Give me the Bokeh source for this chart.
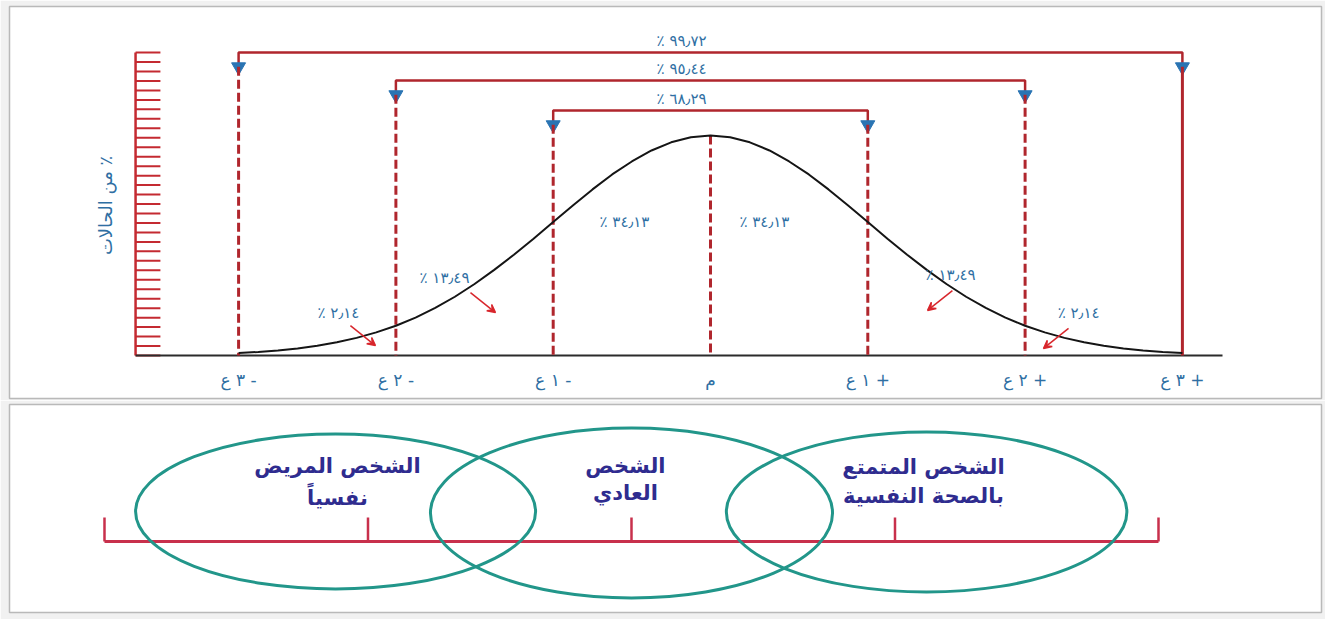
import numpy as np
from bokeh.plotting import figure
from bokeh.layouts import column
from bokeh.models import Range1d, Arrow, VeeHead
from bokeh.core.properties import value
from bokeh.embed import file_html
from bokeh.resources import INLINE

# ---- data -------------------------------------------------------------
# normal curve: height relative to the peak, at eighth-sigma steps
curve_z = [-3.0, -2.875, -2.75, -2.625, -2.5, -2.375, -2.25, -2.125, -2.0, -1.875, -1.75, -1.625,
           -1.5, -1.375, -1.25, -1.125, -1.0, -0.875, -0.75, -0.625, -0.5, -0.375, -0.25, -0.125,
           0.0, 0.125, 0.25, 0.375, 0.5, 0.625, 0.75, 0.875, 1.0, 1.125, 1.25, 1.375,
           1.5, 1.625, 1.75, 1.875, 2.0, 2.125, 2.25, 2.375, 2.5, 2.625, 2.75, 2.875, 3.0]
curve_h = [0.011, 0.016, 0.023, 0.032, 0.044, 0.060, 0.080, 0.105, 0.135, 0.172, 0.216, 0.267,
           0.325, 0.389, 0.458, 0.531, 0.607, 0.682, 0.755, 0.823, 0.882, 0.932, 0.969, 0.992,
           1.0, 0.992, 0.969, 0.932, 0.882, 0.823, 0.755, 0.682, 0.607, 0.531, 0.458, 0.389,
           0.325, 0.267, 0.216, 0.172, 0.135, 0.105, 0.080, 0.060, 0.044, 0.032, 0.023, 0.016, 0.011]

sigma_ticks = [-3, -2, -1, 0, 1, 2, 3]
sigma_labels = ["٣ ع -", "٢ ع -", "١ ع -", "م", "١ ع +", "٢ ع +", "٣ ع +"]

band_pct = [2.14, 13.49, 34.13, 34.13, 13.49, 2.14]
bracket_k = [1, 2, 3]
bracket_pct = [68.29, 95.44, 99.72]

y_title = "\u200f٪ من الحالات"

scale_ticks = [0, 1, 2, 3, 4]
group_line1 = ["الشخص المريض", "الشخص", "الشخص المتمتع"]
group_line2 = ["نفسياً", "العادي", "بالصحة النفسية"]

# ---- styling / layout ---------------------------------------------------
RED = "#b0262d"
BLUE_TXT = "#2f6fa3"
ARROW_BLUE = "#2a74b3"
SMALL_ARROW = "#d8262c"
INDIGO = "#2f2c8f"
TEAL = "#22968a"
SCALE_RED = "#c8304c"
FONT = value("DejaVu Sans")

AR_DIGITS = str.maketrans("0123456789.", "٠١٢٣٤٥٦٧٨٩٫")


def pct_text(v):
    return "٪ " + f"{v:.2f}".translate(AR_DIGITS)


# ---- upper panel: the normal curve ------------------------------------
top = figure(width=1325, height=400, output_backend="svg", toolbar_location=None,
             x_axis_location=None, y_axis_location=None,
             x_range=Range1d(-4.4564, 3.8843), y_range=Range1d(-0.1955, 1.5864),
             min_border_left=9, min_border_right=4, min_border_top=6, min_border_bottom=2)
top.grid.visible = False
top.background_fill_color = "white"
top.border_fill_color = "#f1f1f1"
top.outline_line_color = "#b9b9b9"
top.outline_line_width = 1.5

bracket_y = {1: 1.1136, 2: 1.25, 3: 1.377}
arrow_gap = 0.065
label_gap = 0.052

# hatched vertical scale on the left
hatch_x0, hatch_x1 = -3.655, -3.497
hatch_top = bracket_y[3]
hy = np.linspace(0, hatch_top, 33)
top.segment(x0=[hatch_x0] * len(hy), y0=hy, x1=[hatch_x1] * len(hy), y1=hy,
            line_color="#c42a31", line_width=2)
top.segment(x0=[hatch_x0], y0=[0], x1=[hatch_x0], y1=[hatch_top], line_color="#c42a31", line_width=2.5)

# baseline
top.segment(x0=[hatch_x0], y0=[0], x1=[3.255], y1=[0], line_color="#2b2b2b", line_width=2)

# brackets over +-k sigma
for k, pct in zip(bracket_k, bracket_pct):
    by = bracket_y[k]
    ay = by - arrow_gap
    top.line(x=[-k, -k, k, k], y=[ay, by, by, ay], line_color=RED, line_width=2.5)
    top.scatter(x=[-k, k], y=[ay, ay], marker="inverted_triangle", size=14,
                fill_color=ARROW_BLUE, line_color=ARROW_BLUE)
    top.text(x=[-0.184], y=[by + label_gap], text=[pct_text(pct)], text_font=FONT,
             text_font_size="15px", text_color=BLUE_TXT,
             text_align="center", text_baseline="middle")
    # dashed drop lines below the arrows (the +3 side is solid)
    top.segment(x0=[-k], y0=[ay], x1=[-k], y1=[0], line_color=RED, line_width=3, line_dash="9 4")
    if k == 3:
        top.segment(x0=[k], y0=[ay], x1=[k], y1=[0], line_color=RED, line_width=3)
    else:
        top.segment(x0=[k], y0=[ay], x1=[k], y1=[0], line_color=RED, line_width=3, line_dash="9 4")

# mean line
top.segment(x0=[0], y0=[max(curve_h)], x1=[0], y1=[0], line_color=RED, line_width=3, line_dash="9 4")

# the curve
top.line(x=curve_z, y=curve_h, line_color="#151515", line_width=2)

# band percentages
band_lx = [-2.365, -1.691, -0.547, 0.343, 1.526, 2.34]
band_ly = [0.191, 0.35, 0.605, 0.605, 0.364, 0.195]
top.text(x=band_lx, y=band_ly, text=[pct_text(v) for v in band_pct], text_font=FONT,
         text_font_size="15px", text_color=BLUE_TXT,
         text_align="center", text_baseline="middle")

# small pointer arrows for the tail bands
pointers = [(-2.289, 0.136, -2.130, 0.045), (-1.526, 0.286, -1.367, 0.195),
            (1.538, 0.295, 1.380, 0.205), (2.276, 0.123, 2.117, 0.032)]
for xs, ys, xe, ye in pointers:
    top.add_layout(Arrow(end=VeeHead(size=8, line_color=SMALL_ARROW, fill_color=SMALL_ARROW, line_width=1.5),
                         x_start=xs, y_start=ys, x_end=xe, y_end=ye,
                         line_color=SMALL_ARROW, line_width=1.5))

# sigma labels under the baseline
top.text(x=sigma_ticks, y=[-0.1136] * len(sigma_ticks), text=sigma_labels, text_font=FONT,
         text_font_size="17px", text_color=BLUE_TXT, text_align="center", text_baseline="middle")

# vertical axis title
top.text(x=[-3.846], y=[0.682], text=[y_title], angle=np.pi / 2, text_font=FONT,
         text_font_size="18px", text_color=BLUE_TXT,
         text_align="center", text_baseline="middle")

# ---- lower panel: mental-health continuum ------------------------------
bot = figure(width=1325, height=219, output_backend="svg", toolbar_location=None,
             x_axis_location=None, y_axis_location=None,
             x_range=Range1d(-0.3605, 4.6186), y_range=Range1d(-71, 137),
             min_border_left=9, min_border_right=4, min_border_top=4, min_border_bottom=7)
bot.grid.visible = False
bot.background_fill_color = "white"
bot.border_fill_color = "#f1f1f1"
bot.outline_line_color = "#b9b9b9"
bot.outline_line_width = 1.5

bot.segment(x0=[scale_ticks[0]], y0=[0], x1=[scale_ticks[-1]], y1=[0], line_color=SCALE_RED, line_width=3)
bot.segment(x0=scale_ticks, y0=[0] * 5, x1=scale_ticks, y1=[24] * 5, line_color=SCALE_RED, line_width=2.5)

ell_x = [0.877, 2.0, 3.12]
ell_y = [30, 28.5, 29.5]
ell_w = [1.518, 1.526, 1.52]
ell_h = [155, 170, 160]
bot.ellipse(x=ell_x, y=ell_y, width=ell_w, height=ell_h, fill_color=None,
            line_color=TEAL, line_width=3)

txt_x = [0.884, 1.977, 3.108]
bot.text(x=txt_x, y=[76, 76, 75], text=group_line1, text_font=FONT, text_font_size="21px",
         text_font_style="bold", text_color=INDIGO, text_align="center", text_baseline="middle")
bot.text(x=txt_x, y=[44, 49, 46], text=group_line2, text_font=FONT, text_font_size="21px",
         text_font_style="bold", text_color=INDIGO, text_align="center", text_baseline="middle")

layout = column(top, bot, spacing=0)
open("out.html", "w").write(file_html(layout, INLINE))
